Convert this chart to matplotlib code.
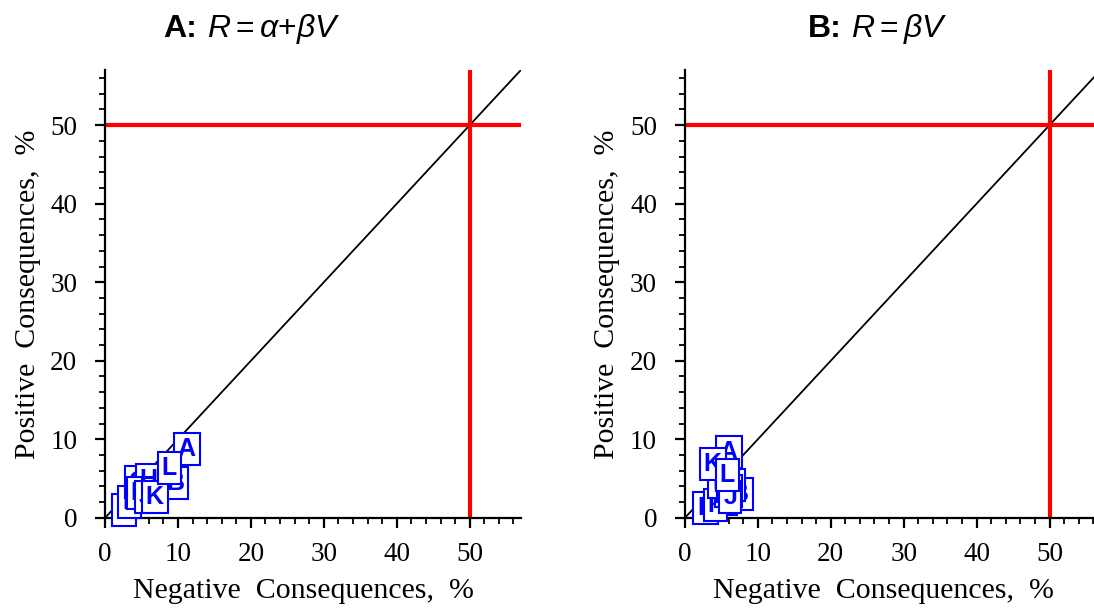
import numpy as np
import matplotlib.pyplot as plt
from matplotlib.ticker import MultipleLocator

plt.rcParams['mathtext.fontset'] = 'custom'
plt.rcParams['mathtext.rm'] = 'Liberation Sans'
plt.rcParams['mathtext.it'] = 'Liberation Sans:italic'
plt.rcParams['mathtext.bf'] = 'Liberation Sans:bold'

labels = ['A', 'B', 'C', 'D', 'E', 'F', 'G', 'H', 'I', 'J', 'K', 'L']

# model A: R = alpha + beta V
neg_a = [11.2, 9.6, 5.8, 5.2, 2.6, 3.4, 4.6, 6.0, 4.0, 5.6, 6.8, 8.8]
pos_a = [8.8, 4.4, 3.6, 3.0, 1.0, 2.0, 4.6, 4.8, 3.2, 2.6, 2.6, 6.4]

# model B: R = beta V
neg_b = [6.0, 7.5, 6.4, 5.4, 2.8, 4.2, 6.0, 5.0, 5.4, 6.2, 3.8, 5.8]
pos_b = [8.4, 3.0, 4.2, 2.4, 1.2, 1.6, 3.4, 4.6, 4.0, 2.6, 6.8, 5.4]

lim = 57
threshold = 50

fig = plt.figure(figsize=(10.94, 6.10), dpi=100)
ax_a = fig.add_axes([0.096, 0.151, 0.380, 0.734])
ax_b = fig.add_axes([0.626, 0.151, 0.380, 0.734])

def draw_panel(ax, xs, ys):
    ax.set_xlim(0, lim)
    ax.set_ylim(0, lim)
    ax.axhline(threshold, color='red', lw=3.0, zorder=2)
    ax.axvline(threshold, color='red', lw=3.0, zorder=2)
    ax.plot([0, lim], [0, lim], color='black', lw=1.3, zorder=1)
    for lab, x, y in zip(labels, xs, ys):
        ax.text(x, y, lab, color='blue', fontsize=18, fontweight='bold',
                family='Liberation Sans', ha='center', va='center', zorder=3,
                bbox=dict(boxstyle='square,pad=0.16', fc='white', ec='blue', lw=1.5))
    for s in ['top', 'right']:
        ax.spines[s].set_visible(False)
    for s in ['left', 'bottom']:
        ax.spines[s].set_linewidth(1.6)
    ax.xaxis.set_major_locator(MultipleLocator(10))
    ax.yaxis.set_major_locator(MultipleLocator(10))
    ax.xaxis.set_minor_locator(MultipleLocator(2))
    ax.yaxis.set_minor_locator(MultipleLocator(2))
    ax.tick_params(which='major', length=7, width=1.6, direction='out',
                   labelsize=19.5)
    ax.tick_params(axis='y', which='major', pad=13)
    ax.tick_params(axis='x', which='major', pad=10)
    ax.tick_params(which='minor', length=4.5, width=1.3, direction='out')
    for t in ax.get_xticklabels() + ax.get_yticklabels():
        t.set_family('Liberation Serif')
    ax.set_xlabel('Negative  Consequences,  %', family='Liberation Serif',
                  fontsize=21.5)
    ax.set_ylabel('Positive  Consequences,  %', family='Liberation Serif',
                  fontsize=21.5)
    ax.xaxis.set_label_coords(0.478, -0.135)
    ax.yaxis.set_label_coords(-0.155, 0.5)

draw_panel(ax_a, neg_a, pos_a)
draw_panel(ax_b, neg_b, pos_b)

# panel titles: bold tag followed by the model formula
ty = 0.952
fig.text(163 / 1094, ty, 'A:', family='Liberation Sans', fontweight='bold',
         fontsize=23, ha='left', va='center')
fig.text(207 / 1094, ty, r'$R = \alpha{+}\beta V$', fontsize=23,
         ha='left', va='center')
fig.text(808 / 1094, ty, 'B:', family='Liberation Sans', fontweight='bold',
         fontsize=23, ha='left', va='center')
fig.text(851 / 1094, ty, r'$R = \beta V$', fontsize=23,
         ha='left', va='center')

fig.savefig('out.png', dpi=100)
